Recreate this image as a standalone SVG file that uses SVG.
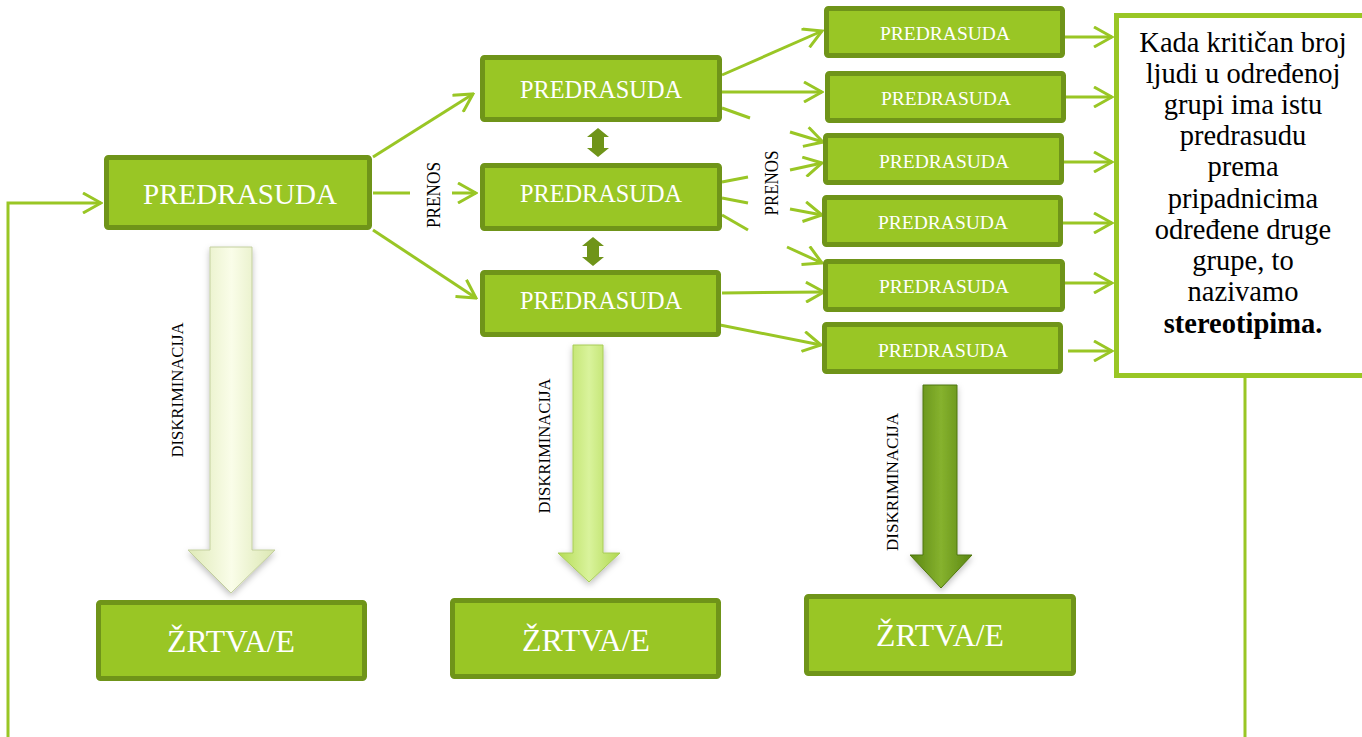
<svg xmlns="http://www.w3.org/2000/svg" width="1362" height="737" viewBox="0 0 1362 737">
<style>
.box{fill:#99c625;stroke:#6f9419;stroke-width:5}
.wt{fill:#ffffff;font-family:"Liberation Serif","DejaVu Serif",serif;text-anchor:middle}
.lbl{fill:#000000;font-family:"Liberation Serif","DejaVu Serif",serif;text-anchor:middle}
.con{fill:none;stroke:#99c625;stroke-width:3}
.dbl{fill:#6f9419}
.para{fill:#000000;font-family:"Liberation Serif","DejaVu Serif",serif;font-size:28.5px;text-anchor:middle}
</style>
<defs>
<marker id="chev" viewBox="0 0 22 22" refX="20" refY="11" markerWidth="22" markerHeight="22" markerUnits="userSpaceOnUse" orient="auto">
<path d="M2,1 L20,11 L2,21" fill="none" stroke="#99c625" stroke-width="3"/>
</marker>
<linearGradient id="g1" x1="0" y1="0" x2="1" y2="0">
<stop offset="0" stop-color="#dfeab8"/><stop offset="0.5" stop-color="#fafde9"/><stop offset="1" stop-color="#dbe7b2"/>
</linearGradient>
<linearGradient id="g2" x1="0" y1="0" x2="1" y2="0">
<stop offset="0" stop-color="#b5dc55"/><stop offset="0.5" stop-color="#d9f39c"/><stop offset="1" stop-color="#b0d84f"/>
</linearGradient>
<linearGradient id="g3" x1="0" y1="0" x2="1" y2="0">
<stop offset="0" stop-color="#5a8612"/><stop offset="0.5" stop-color="#86b22e"/><stop offset="1" stop-color="#5a8612"/>
</linearGradient>
<filter id="sh" x="-30%" y="-10%" width="160%" height="120%">
<feDropShadow dx="0" dy="3" stdDeviation="3" flood-color="#000000" flood-opacity="0.25"/>
</filter>
</defs>

<g id="connectors">
<polyline class="con" points="8,737 8,203 101,203" marker-end="url(#chev)" stroke="#a3cd36"/>
<line class="con" x1="373" y1="157" x2="473" y2="94" marker-end="url(#chev)"/>
<line class="con" x1="373" y1="193" x2="410" y2="193"/>
<line class="con" x1="452" y1="193" x2="476" y2="193" marker-end="url(#chev)"/>
<line class="con" x1="373" y1="230" x2="476" y2="298" marker-end="url(#chev)"/>
<line class="con" x1="722" y1="75" x2="822" y2="31" marker-end="url(#chev)"/>
<line class="con" x1="722" y1="92" x2="822" y2="92" marker-end="url(#chev)"/>
<line class="con" x1="722" y1="108" x2="750" y2="118"/>
<line class="con" x1="722" y1="182" x2="748" y2="177"/>
<line class="con" x1="722" y1="198" x2="748" y2="203"/>
<line class="con" x1="722" y1="215" x2="748" y2="230"/>
<line class="con" x1="790" y1="132" x2="823" y2="142" marker-end="url(#chev)"/>
<line class="con" x1="790" y1="170" x2="822" y2="163" marker-end="url(#chev)"/>
<line class="con" x1="790" y1="209" x2="822" y2="215" marker-end="url(#chev)"/>
<line class="con" x1="787" y1="247" x2="822" y2="263" marker-end="url(#chev)"/>
<line class="con" x1="722" y1="293" x2="824" y2="292" marker-end="url(#chev)"/>
<line class="con" x1="720" y1="325" x2="821" y2="345" marker-end="url(#chev)"/>
<line class="con" x1="1065" y1="37" x2="1112" y2="37" marker-end="url(#chev)"/>
<line class="con" x1="1066" y1="97" x2="1112" y2="97" marker-end="url(#chev)"/>
<line class="con" x1="1064" y1="162" x2="1112" y2="162" marker-end="url(#chev)"/>
<line class="con" x1="1063" y1="223" x2="1112" y2="223" marker-end="url(#chev)"/>
<line class="con" x1="1065" y1="283" x2="1112" y2="283" marker-end="url(#chev)"/>
<line class="con" x1="1068" y1="351" x2="1112" y2="351" marker-end="url(#chev)"/>
<line class="con" x1="1245" y1="378" x2="1245" y2="737" stroke="#a3cd36"/>
<polygon class="dbl" points="598,128 609,137 604,137 604,148 609,148 598,157 587,148 592,148 592,137 587,137"/>
<polygon class="dbl" points="593,237 604,246 599,246 599,257 604,257 593,266 582,257 587,257 587,246 582,246"/>
<polygon points="210,247 252,247 252,550 275,550 231,593 188,550 210,550" fill="url(#g1)" stroke="#c3cf9e" stroke-width="1" filter="url(#sh)"/>
<polygon points="573,345 603,345 603,553 620,553 589,582 558,553 573,553" fill="url(#g2)" stroke="#a8cc58" stroke-width="1" filter="url(#sh)"/>
<polygon points="923,385 957,385 957,555 972,555 941,588 910,555 923,555" fill="url(#g3)" stroke="#4f760f" stroke-width="1" filter="url(#sh)"/>
<text class="lbl" font-size="17" textLength="135" lengthAdjust="spacingAndGlyphs" transform="translate(183,390) rotate(-90)">DISKRIMINACIJA</text>
<text class="lbl" font-size="17" textLength="135" lengthAdjust="spacingAndGlyphs" transform="translate(550,446) rotate(-90)">DISKRIMINACIJA</text>
<text class="lbl" font-size="17" textLength="138" lengthAdjust="spacingAndGlyphs" transform="translate(898,482) rotate(-90)">DISKRIMINACIJA</text>
<text class="lbl" font-size="19" textLength="66" lengthAdjust="spacingAndGlyphs" transform="translate(440,195) rotate(-90)">PRENOS</text>
<text class="lbl" font-size="19" textLength="65" lengthAdjust="spacingAndGlyphs" transform="translate(778,183) rotate(-90)">PRENOS</text>
</g>

<g id="main">
<rect class="box" x="106.5" y="157.5" width="263" height="70" rx="2"/>
<text class="wt" x="240" y="204" font-size="30" textLength="194" lengthAdjust="spacingAndGlyphs">PREDRASUDA</text>
</g>
<g id="mid-a">
<rect class="box" x="482.5" y="57.5" width="237" height="62" rx="2"/>
<text class="wt" x="601" y="98" font-size="25" textLength="162" lengthAdjust="spacingAndGlyphs">PREDRASUDA</text>
</g>
<g id="mid-b">
<rect class="box" x="482.5" y="165.5" width="237" height="63" rx="2"/>
<text class="wt" x="601" y="202" font-size="25" textLength="162" lengthAdjust="spacingAndGlyphs">PREDRASUDA</text>
</g>
<g id="mid-c">
<rect class="box" x="482.5" y="272.5" width="236" height="62" rx="2"/>
<text class="wt" x="601" y="309" font-size="25" textLength="162" lengthAdjust="spacingAndGlyphs">PREDRASUDA</text>
</g>
<g id="r1">
<rect class="box" x="826.5" y="8.5" width="236" height="47" rx="2"/>
<text class="wt" x="945" y="40" font-size="19.5">PREDRASUDA</text>
</g>
<g id="r2">
<rect class="box" x="827.5" y="73.5" width="236" height="47" rx="2"/>
<text class="wt" x="946" y="105" font-size="19.5">PREDRASUDA</text>
</g>
<g id="r3">
<rect class="box" x="825.5" y="135.5" width="236" height="47" rx="2"/>
<text class="wt" x="944" y="168" font-size="19.5">PREDRASUDA</text>
</g>
<g id="r4">
<rect class="box" x="824.5" y="197.5" width="236" height="47" rx="2"/>
<text class="wt" x="943" y="229" font-size="19.5">PREDRASUDA</text>
</g>
<g id="r5">
<rect class="box" x="825.5" y="261.5" width="237" height="48" rx="2"/>
<text class="wt" x="944" y="293" font-size="19.5">PREDRASUDA</text>
</g>
<g id="r6">
<rect class="box" x="824.5" y="324.5" width="236" height="47" rx="2"/>
<text class="wt" x="943" y="357" font-size="19.5">PREDRASUDA</text>
</g>
<g id="note">
<rect x="1116.5" y="15.5" width="260" height="360" fill="#ffffff" stroke="#99c625" stroke-width="5"/>
<text class="para" x="1243" y="52">Kada kritičan broj</text>
<text class="para" x="1243" y="83">ljudi u određenoj</text>
<text class="para" x="1243" y="114">grupi ima istu</text>
<text class="para" x="1243" y="145">predrasudu</text>
<text class="para" x="1243" y="176">prema</text>
<text class="para" x="1243" y="208">pripadnicima</text>
<text class="para" x="1243" y="239">određene druge</text>
<text class="para" x="1243" y="270">grupe, to</text>
<text class="para" x="1243" y="301">nazivamo</text>
<text class="para" x="1243" y="333" font-weight="bold">stereotipima.</text>
</g>
<g id="v1">
<rect class="box" x="98.5" y="602.5" width="266" height="76" rx="2"/>
<text class="wt" x="231" y="652" font-size="32" textLength="128" lengthAdjust="spacingAndGlyphs">ŽRTVA/E</text>
</g>
<g id="v2">
<rect class="box" x="452.5" y="600.5" width="266" height="76" rx="2"/>
<text class="wt" x="586" y="651" font-size="32" textLength="128" lengthAdjust="spacingAndGlyphs">ŽRTVA/E</text>
</g>
<g id="v3">
<rect class="box" x="806.5" y="596.5" width="267" height="77" rx="2"/>
<text class="wt" x="940" y="646" font-size="32" textLength="128" lengthAdjust="spacingAndGlyphs">ŽRTVA/E</text>
</g>
</svg>
